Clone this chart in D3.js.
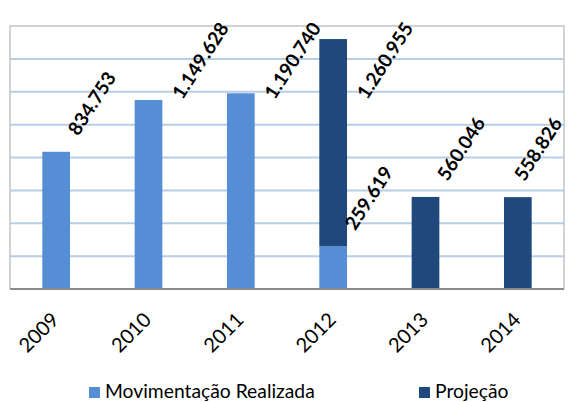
<!DOCTYPE html>
<html>
<head>
<meta charset="utf-8">
<script src="https://cdn.jsdelivr.net/npm/d3@7"></script>
<style>
  body { margin: 0; background: #fff; }
  text { font-family: Lato, "Noto Sans", sans-serif; }
</style>
</head>
<body>
<script>
var w = 569, h = 402;

var years = ["2009", "2010", "2011", "2012", "2013", "2014"];
var realizada = [834753, 1149628, 1190740, 259619, null, null];
var projecao = [null, null, null, 1260955, 560046, 558826];
var seriesNames = ["Movimentação Realizada", "Projeção"];
var yTicks = [0, 200000, 400000, 600000, 800000, 1000000, 1200000, 1400000, 1600000];

var colors = ["#558ED5", "#1F497D"];

var svg = d3.select("body")
    .append("svg")
    .attr("width", w)
    .attr("height", h);

var xScale = d3.scaleBand()
    .domain(years)
    .range([10, 564])
    .paddingInner(0.7)
    .paddingOuter(0.35);

var yScale = d3.scaleLinear()
    .domain([0, 1600000])
    .range([289, 26]);

// gridlines
svg.append("g")
    .selectAll("line")
    .data(yTicks.slice(1, -1))
    .join("line")
    .attr("x1", 10)
    .attr("x2", 564)
    .attr("y1", d => yScale(d))
    .attr("y2", d => yScale(d))
    .style("stroke", "#b9cde5")
    .style("stroke-width", 2);

// plot border (left, top, right)
svg.append("path")
    .attr("d", "M10," + yScale(0) + "V" + yScale(1600000) + "H564V" + yScale(0))
    .style("fill", "none")
    .style("stroke", "#c4c4c4")
    .style("stroke-width", 1.5);

// stacked data
var rows = years.map(function(y, i) {
    return { year: y, a: realizada[i] || 0, b: projecao[i] || 0 };
});
var stack = d3.stack().keys(["a", "b"])(rows);

svg.append("g")
    .selectAll("g")
    .data(stack)
    .join("g")
    .style("fill", (d, i) => colors[i])
    .selectAll("rect")
    .data(d => d.filter(p => p[1] > p[0]))
    .join("rect")
    .attr("x", d => xScale(d.data.year))
    .attr("width", xScale.bandwidth())
    .attr("y", d => yScale(d[1]))
    .attr("height", d => yScale(d[0]) - yScale(d[1]));

// x axis line
svg.append("line")
    .attr("x1", 10).attr("x2", 564)
    .attr("y1", yScale(0)).attr("y2", yScale(0))
    .style("stroke", "#8c8c8c")
    .style("stroke-width", 2);

// value labels
var fmt = d3.formatLocale({ decimal: ",", thousands: ".", grouping: [3] }).format(",d");
var labels = [];
stack.forEach(function(s) {
    s.forEach(function(p) {
        if (p[1] > p[0]) labels.push({ year: p.data.year, top: p[1], v: p[1] - p[0] });
    });
});

var ang = -57, rad = ang * Math.PI / 180;
svg.append("g")
    .selectAll("text")
    .data(labels)
    .join("text")
    .text(d => fmt(d.v))
    .style("font-size", "19px")
    .style("font-weight", "bold")
    .style("fill", "#000")
    .each(function(d) {
        var len = this.getComputedTextLength();
        var x = xScale(d.year) + xScale.bandwidth() / 2 + 22;
        var y = yScale(d.top) - 15;
        var endY = y + len * Math.sin(rad);
        // keep long labels inside the chart top
        if (endY < 28) { y += 28 - endY; x += 12; }
        var endX = x + len * Math.cos(rad);
        if (endX > 563) x -= endX - 563;
        d3.select(this).attr("transform", "translate(" + x + "," + y + ") rotate(" + ang + ")");
    });

// x axis labels
svg.append("g")
    .selectAll("text")
    .data(years)
    .join("text")
    .text(d => d)
    .attr("text-anchor", "end")
    .attr("transform", d => "translate(" + (xScale(d) + xScale.bandwidth() / 2 + 4) + ",321) rotate(-45)")
    .style("font-size", "20px")
    .style("fill", "#000");

// legend
var legendX = [89, 419];
var legend = svg.append("g")
    .selectAll("g")
    .data(seriesNames)
    .join("g")
    .attr("transform", (d, i) => "translate(" + legendX[i] + ",387)");

legend.append("rect")
    .attr("width", 11)
    .attr("height", 11)
    .style("fill", (d, i) => colors[i]);

legend.append("text")
    .text(d => d)
    .attr("x", 16)
    .attr("y", 11)
    .style("font-size", "19.3px")
    .style("fill", "#000");
</script>
</body>
</html>
